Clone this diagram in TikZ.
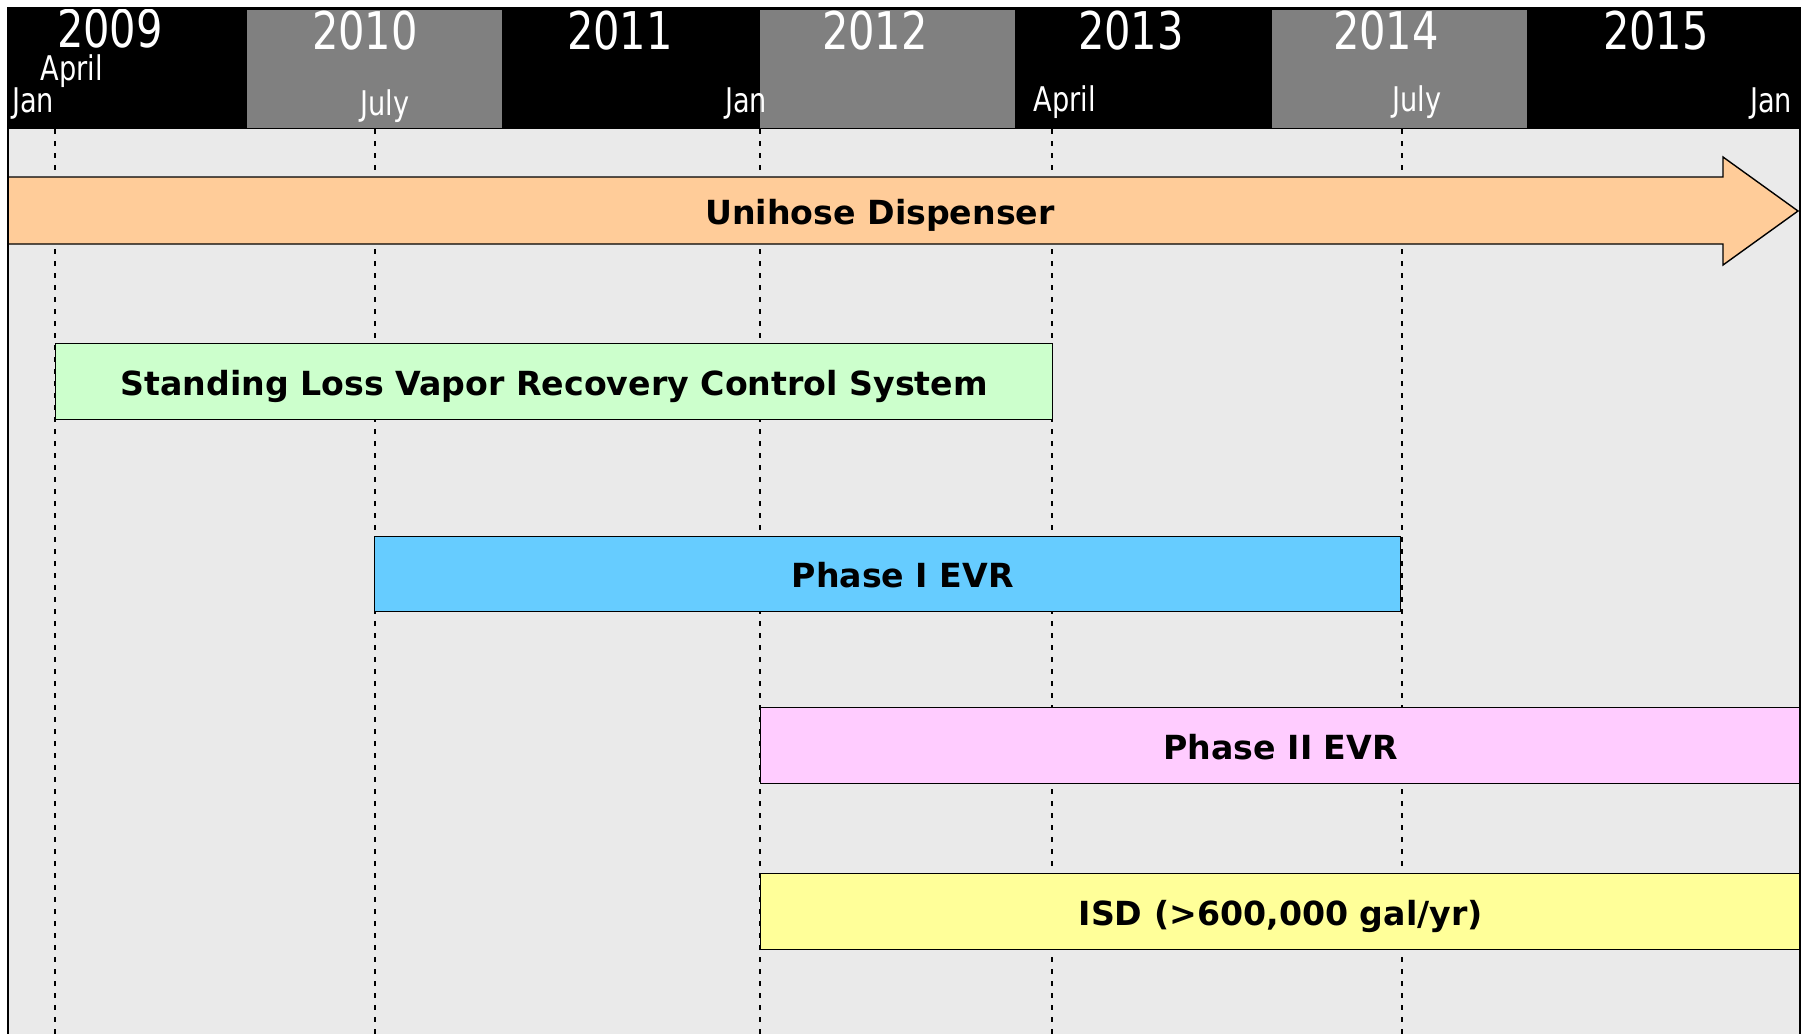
\documentclass[tikz,border=0pt]{standalone}
\usepackage{fontspec}
\setmainfont{DejaVu Sans}
\newfontfamily\yearfont[FakeStretch=0.8]{DejaVu Sans}
\definecolor{panel}{HTML}{EAEAEA}
\definecolor{yeargray}{HTML}{808080}
\definecolor{peach}{HTML}{FFCC99}
\definecolor{mint}{HTML}{CCFFCC}
\definecolor{sky}{HTML}{66CCFF}
\definecolor{pinkish}{HTML}{FFCCFF}
\definecolor{lemon}{HTML}{FFFF99}

\begin{document}
\begin{tikzpicture}[x=0.5pt,y=-0.5pt]
\tikzstyle{every node}+=[inner sep=0pt]
\tikzstyle{year}=[text=white,font=\yearfont\fontsize{26}{30}\selectfont]
\tikzstyle{month}=[text=white,font=\yearfont\fontsize{17}{19}\selectfont]
\tikzstyle{bartext}=[font=\bfseries\fontsize{16.6}{19}\selectfont,text height=13.3pt,text depth=0pt]
\tikzstyle{bar}=[bartext,draw=black,line width=0.7pt,anchor=north west]
\tikzstyle{guide}=[black,line width=0.6pt,dash pattern=on 2.5pt off 3.5pt]
\useasboundingbox (0,0) rectangle (1811,1034);
% panel
\fill [panel] (8,8) rectangle (1800,1040);
% month guides
\draw [guide] (55,129) -- (55,1034);
\draw [guide] (375,129) -- (375,1034);
\draw [guide] (760,129) -- (760,1034);
\draw [guide] (1052,129) -- (1052,1034);
\draw [guide] (1402,129) -- (1402,1034);
% bars
\node [bar,fill=mint,minimum width=498.5pt,minimum height=38pt] (slvr) at (55,343) {Standing Loss Vapor Recovery Control System};
\node [bar,fill=sky,minimum width=513pt,minimum height=37.5pt] (evr1) at (374,536) {\hspace*{15pt}Phase I EVR};
\node [bar,fill=pinkish,minimum width=520pt,minimum height=38pt] (evr2) at (760,707) {Phase II EVR};
\node [bar,fill=lemon,minimum width=520pt,minimum height=38pt] (isd) at (760,873) {ISD (>600,000 gal/yr)};
% arrow
\draw [black,line width=0.7pt,fill=peach] (8,177) -- (1723,177) -- (1723,157) -- (1798,211) -- (1723,265) -- (1723,244) -- (8,244);
\node [bartext] (uni) at (880,211) {Unihose Dispenser};
% header
\fill [black] (8,8) rectangle (1800,129);
\fill [yeargray] (247,10) rectangle (502,128);
\fill [yeargray] (760,10) rectangle (1015,128);
\fill [yeargray] (1272,10) rectangle (1527,128);
\node [year] (y2009) at (110,29) {2009};
\node [year] (y2010) at (365,31) {2010};
\node [year] (y2011) at (620,31) {2011};
\node [year] (y2012) at (875,31) {2012};
\node [year] (y2013) at (1131,31) {2013};
\node [year] (y2014) at (1386,31) {2014};
\node [year] (y2015) at (1656,31) {2015};
\node [month] (m1) at (72,71) {April};
\node [month] (m0) at (33,104) {Jan};
\node [month] (m2) at (385,106) {July};
\node [month] (m3) at (746,104) {Jan};
\node [month] (m4) at (1065,102) {April};
\node [month] (m5) at (1417,102) {July};
\node [month] (m6) at (1771,104) {Jan};
% frame
\draw [black,line width=1.2pt] (8,1034) -- (8,8) -- (1800,8) -- (1800,1034);
\end{tikzpicture}
\end{document}
